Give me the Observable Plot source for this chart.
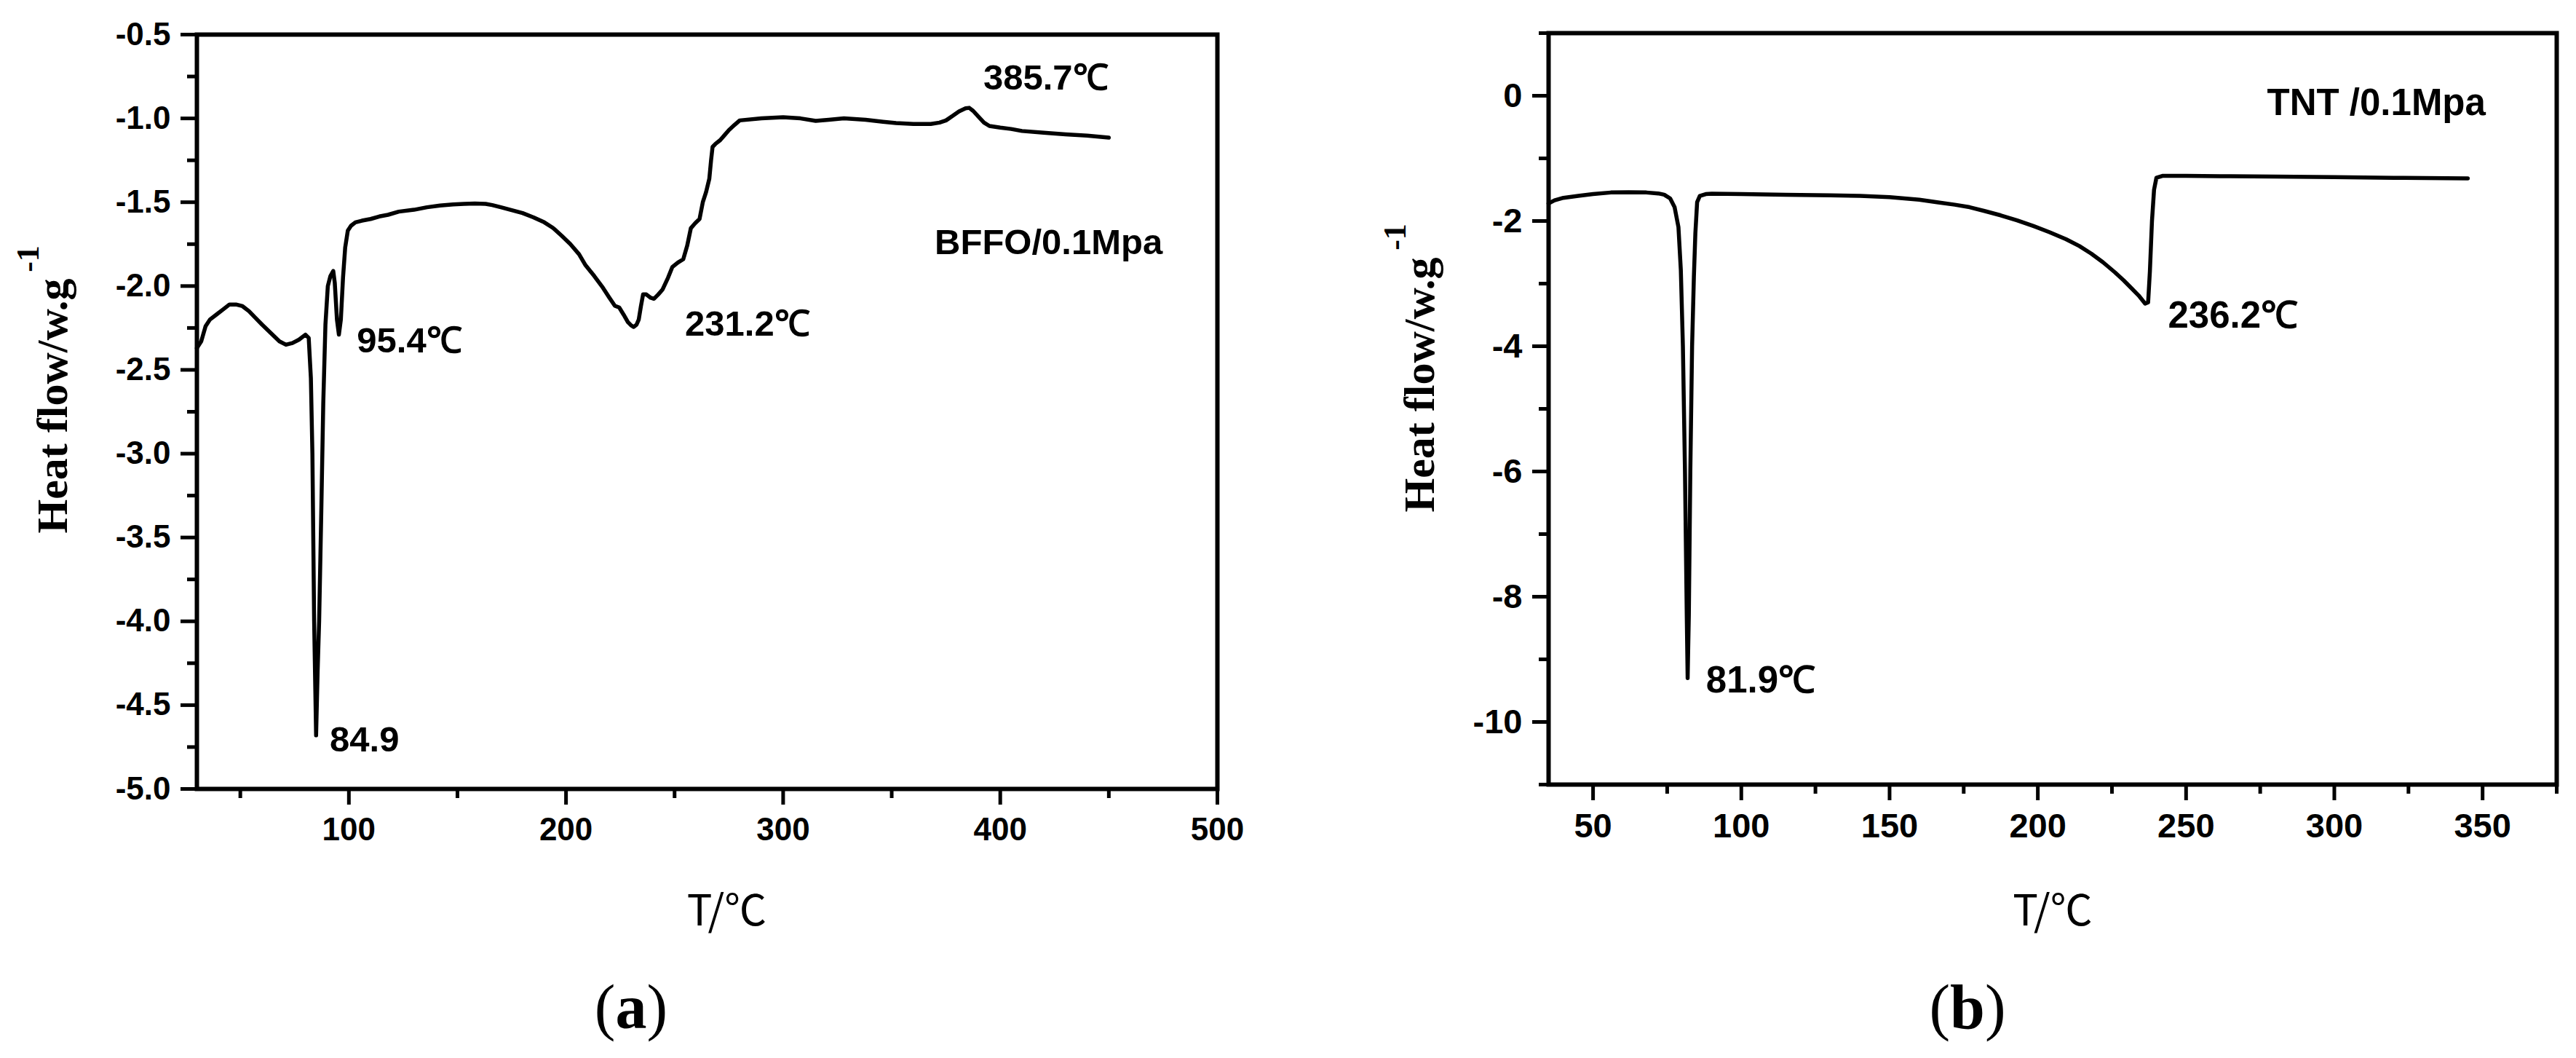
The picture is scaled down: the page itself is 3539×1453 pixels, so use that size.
<!DOCTYPE html>
<html>
<head>
<meta charset="utf-8">
<script src="https://cdn.jsdelivr.net/npm/d3@7"></script>
<script src="https://cdn.jsdelivr.net/npm/@observablehq/plot@0.6"></script>
<style>
  html, body { margin: 0; padding: 0; background: #fff; }
  #page { position: relative; width: 3539px; height: 1453px; background: #fff; overflow: hidden; }
  .panel { position: absolute; top: 0; }
  .cap { position: absolute; font-family: "Liberation Serif", "Times New Roman", serif; font-size: 86px; line-height: 1; transform: translate(-50%, -50%); white-space: nowrap; color: #000; }
  .cap b { font-weight: bold; }
</style>
</head>
<body>
<div id="page">
  <div class="panel" id="pa" style="left:0px"></div>
  <div class="panel" id="pb" style="left:1780px"></div>
  <div class="cap" style="left:867px; top:1383px">(<b>a</b>)</div>
  <div class="cap" style="left:2703px; top:1383px">(<b>b</b>)</div>
</div>
<script>
// ---------- Panel (a): BFFO DSC curve ----------
const tempA = [30,32,34,36,39,42,45,48,51,54,57,60,64,68,71,74,77,80,81.5,82.5,83.2,84.0,84.9,85.6,86.3,87.3,88.2,89.2,90.3,91.5,92.8,93.5,94.5,95.4,96.3,97.3,98.3,99.5,101,103,106,110,114,118,123,130,136,142,148,153,158,163,166,170,175,180,185,190,194,198,202,206,209,213,217,220,222.5,224.5,226.5,228.5,230,231.2,232.5,233.5,234.5,235.5,237,239,240.5,242.5,244.5,247,249,251.5,254,255.8,257.5,259.5,261.5,263,264.5,266,266.8,267.5,269,271,273,275,277.5,280,290,300,308,315,321,328,338,346,352,360,368,372,375,378,381,384,385.7,387.5,390,392.5,395,400,405,410,420,430,440,450];
const heatA = [-2.37,-2.33,-2.24,-2.2,-2.17,-2.14,-2.11,-2.11,-2.12,-2.15,-2.19,-2.23,-2.28,-2.33,-2.35,-2.34,-2.32,-2.29,-2.31,-2.55,-3.0,-4.0,-4.68,-4.3,-4.0,-3.34,-2.7,-2.23,-2.0,-1.94,-1.91,-1.98,-2.2,-2.29,-2.2,-1.95,-1.77,-1.67,-1.64,-1.62,-1.61,-1.6,-1.585,-1.575,-1.556,-1.545,-1.53,-1.52,-1.513,-1.51,-1.508,-1.51,-1.517,-1.53,-1.547,-1.565,-1.59,-1.62,-1.653,-1.7,-1.75,-1.81,-1.876,-1.94,-2.01,-2.07,-2.118,-2.128,-2.17,-2.215,-2.235,-2.244,-2.23,-2.2,-2.12,-2.05,-2.05,-2.07,-2.076,-2.05,-2.02,-1.95,-1.886,-1.86,-1.84,-1.76,-1.655,-1.625,-1.6,-1.5,-1.44,-1.36,-1.25,-1.17,-1.15,-1.13,-1.1,-1.07,-1.04,-1.012,-1.0,-0.993,-1.0,-1.015,-1.008,-1.0,-1.008,-1.02,-1.028,-1.033,-1.033,-1.025,-1.012,-0.985,-0.958,-0.94,-0.937,-0.955,-0.99,-1.025,-1.045,-1.055,-1.063,-1.075,-1.085,-1.095,-1.103,-1.115];
const xMajorA = [100, 200, 300, 400, 500];
const xMinorA = [50, 150, 250, 350, 450];
const yMajorA = [-0.5, -1.0, -1.5, -2.0, -2.5, -3.0, -3.5, -4.0, -4.5, -5.0];
const yMinorA = [-0.75, -1.25, -1.75, -2.25, -2.75, -3.25, -3.75, -4.25, -4.75];
const noteTextA = ["84.9", "95.4℃", "231.2℃", "385.7℃", "BFFO/0.1Mpa"];
const noteXA = [91.2, 103.7, 254.8, 392.2, 369.8];
const noteYA = [-4.71, -2.33, -2.23, -0.76, -1.74];

// ---------- Panel (b): TNT DSC curve ----------
const tempB = [35,37,40,45,50,56,62,68,72,74,76,77.5,78.8,79.6,80.3,81,81.6,81.9,82.3,82.8,83.4,84.0,84.5,85.1,86,88,90,100,115,130,140,150,160,166,172,177,182,187.5,193,198.5,204,209.5,214,218,222,226,229,231.5,234,236.2,237.2,237.8,238.5,239.2,240,242,250,265,280,300,320,345];
const heatB = [-1.72,-1.67,-1.63,-1.6,-1.57,-1.545,-1.54,-1.545,-1.56,-1.58,-1.64,-1.78,-2.1,-2.78,-4.0,-6.0,-8.3,-9.3,-8.3,-6.0,-4.0,-2.9,-2.2,-1.7,-1.6,-1.57,-1.565,-1.57,-1.58,-1.59,-1.6,-1.62,-1.66,-1.7,-1.74,-1.78,-1.84,-1.91,-1.99,-2.08,-2.18,-2.29,-2.4,-2.52,-2.66,-2.82,-2.95,-3.07,-3.19,-3.32,-3.3,-2.8,-2.0,-1.5,-1.31,-1.28,-1.28,-1.285,-1.29,-1.3,-1.31,-1.32];
const xMajorB = [50, 100, 150, 200, 250, 300, 350];
const xMinorB = [75, 125, 175, 225, 275, 325, 375];
const yMajorB = [0, -2, -4, -6, -8, -10];
const yMinorB = [1, -1, -3, -5, -7, -9, -11];
const noteTextB = ["81.9℃", "236.2℃", "TNT /0.1Mpa"];
const noteXB = [88.1, 243.9, 277.3];
const noteYB = [-9.34, -3.51, -0.12];

const yLabel = "Heat flow/w.g";
const yLabelSup = "-1";
const xLabel = "T/℃";

function panel(cfg) {
  const data = cfg.temp.map((t, i) => ({t, h: cfg.heat[i]}));
  const notes = cfg.noteText.map((s, i) => ({s, x: cfg.noteX[i], y: cfg.noteY[i]}));
  const sans = "Liberation Sans, Arial, sans-serif";
  const serif = "Liberation Serif, Times New Roman, serif";
  return Plot.plot({
    width: cfg.width,
    height: 1300,
    marginLeft: cfg.ml,
    marginRight: cfg.mr,
    marginTop: cfg.mt,
    marginBottom: cfg.mb,
    style: {background: "#fff", fontFamily: sans, color: "#000", overflow: "visible"},
    x: {domain: cfg.xDomain},
    y: {domain: cfg.yDomain},
    marks: [
      Plot.axisX(cfg.xMinor, {tickSize: 13, strokeWidth: 5, tickFormat: () => "", label: null}),
      Plot.axisX(cfg.xMajor, {tickSize: 22, strokeWidth: 5, tickPadding: 17, fontSize: cfg.tickFont, fontWeight: "bold", fontFamily: sans, label: null}),
      Plot.axisY(cfg.yMinor, {tickSize: 13, strokeWidth: 5, tickFormat: () => "", label: null}),
      Plot.axisY(cfg.yMajor, {tickSize: 22, strokeWidth: 5, tickPadding: 14, fontSize: cfg.tickFont, fontWeight: "bold", fontFamily: sans, tickFormat: cfg.fmt, label: null}),
      Plot.frame({stroke: "#000", strokeWidth: 6}),
      Plot.line(data, {x: "t", y: "h", stroke: "#000", strokeWidth: 5.5, strokeLinejoin: "round", strokeLinecap: "round"}),
      Plot.text(notes, {x: "x", y: "y", text: "s", textAnchor: "start", lineAnchor: "middle", fontSize: cfg.noteFont, fontWeight: "bold", fontFamily: sans, fill: "#000"}),
      Plot.text([xLabel], {text: d => d, frameAnchor: "bottom", dx: cfg.xlDx, dy: cfg.xlDy, textAnchor: "middle", lineAnchor: "middle", fontSize: 58, fontFamily: "Noto Sans CJK SC, Liberation Sans, sans-serif", fill: "#000"}),
      Plot.text([yLabel], {text: d => d, frameAnchor: "left", rotate: -90, dx: cfg.ylDx, dy: cfg.ylDy, textAnchor: "middle", lineAnchor: "middle", fontSize: 60, fontWeight: "bold", fontFamily: serif, fill: "#000"}),
      Plot.text([yLabelSup], {text: d => d, frameAnchor: "left", rotate: -90, dx: cfg.supDx, dy: cfg.supDy, textAnchor: "middle", lineAnchor: "middle", fontSize: 44, fontWeight: "bold", fontFamily: serif, fill: "#000"})
    ]
  });
}

document.getElementById("pa").append(panel({
  temp: tempA, heat: heatA, width: 1780, ml: 270, mr: 108, mt: 47, mb: 217,
  xDomain: [30, 500], yDomain: [-5, -0.5],
  xMajor: xMajorA, xMinor: xMinorA, yMajor: yMajorA, yMinor: yMinorA,
  fmt: d => d.toFixed(1), tickFont: 44, noteFont: 49,
  noteText: noteTextA, noteX: noteXA, noteY: noteYA,
  xlDx: 27, xlDy: 169, ylDx: -198, ylDy: -8, supDx: -232, supDy: -210
}));

document.getElementById("pb").append(panel({
  temp: tempB, heat: heatB, width: 1759, ml: 347, mr: 27, mt: 45, mb: 223,
  xDomain: [35, 375], yDomain: [-11, 1],
  xMajor: xMajorB, xMinor: xMinorB, yMajor: yMajorB, yMinor: yMinorB,
  fmt: d => String(d), tickFont: 47, noteFont: 51,
  noteText: noteTextB, noteX: noteXB, noteY: noteYB,
  xlDx: 0, xlDy: 175, ylDx: -177, ylDy: -33, supDx: -211, supDy: -236
}));
</script>
</body>
</html>
